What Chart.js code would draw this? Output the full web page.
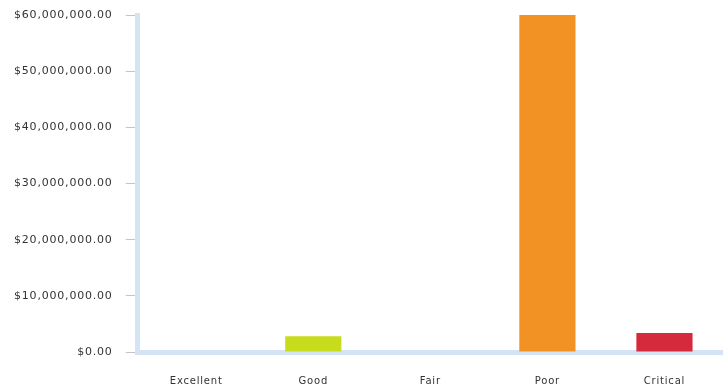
<!DOCTYPE html>
<html>
<head>
<meta charset="utf-8">
<script src="https://cdn.jsdelivr.net/npm/chart.js@4/dist/chart.umd.min.js"></script>
<style>
html,body{margin:0;padding:0;background:#fff;overflow:hidden;}
canvas{display:block;}
</style>
</head>
<body>
<canvas id="c" width="723" height="391"></canvas>
<script>
const categories = ["Excellent", "Good", "Fair", "Poor", "Critical"];
const values = [0, 2800000, 0, 60000000, 3400000];
const barColors = ["#c8dc1e", "#c8dc1e", "#c8dc1e", "#f39224", "#d42a3c"];
const yTickMax = 60000000;
const yTickStep = 10000000;

function money(v){
  return "$" + Number(v).toLocaleString("en-US",{minimumFractionDigits:2,maximumFractionDigits:2});
}

const spacing = {
  id: "spacing",
  beforeInit(chart){ chart.ctx.letterSpacing = "0.8px"; },
  beforeLayout(chart){ chart.ctx.letterSpacing = "0.8px"; },
  beforeDraw(chart){ chart.ctx.letterSpacing = "0.8px"; }
};

new Chart(document.getElementById("c"), {
  type: "bar",
  data: {
    labels: categories,
    datasets: [{
      data: values,
      backgroundColor: barColors,
      borderWidth: 0,
      barPercentage: 0.48,
      categoryPercentage: 1.0
    }]
  },
  options: {
    responsive: false,
    animation: false,
    devicePixelRatio: 1,
    plugins: { legend: { display: false }, tooltip: { enabled: false } },
    layout: { padding: { left: 1, right: 0, top: 15, bottom: 4 } },
    scales: {
      x: {
        grid: { display: true, drawOnChartArea: false, drawTicks: true, tickLength: 23, color: "rgba(0,0,0,0)" },
        border: { display: true, color: "#d4e4f4", width: 5, dash: [114, 3] },
        ticks: { color: "#333", font: { family: "DejaVu Sans", size: 10 }, padding: 0 }
      },
      y: {
        min: 0,
        max: yTickMax,
        afterFit(scale){ scale.paddingTop = 0; scale.paddingBottom = 0; },
        grid: { display: true, drawOnChartArea: false, drawTicks: true, tickLength: 12, color: "#c4c4c4", lineWidth: 1 },
        border: { display: true, color: "#d4e4f4", width: 5, dash: [54, 2] },
        ticks: {
          stepSize: yTickStep,
          color: "#333",
          padding: 13,
          font: { family: "DejaVu Sans", size: 11 },
          callback: (v) => money(v)
        }
      }
    }
  },
  plugins: [spacing]
});
</script>
</body>
</html>
